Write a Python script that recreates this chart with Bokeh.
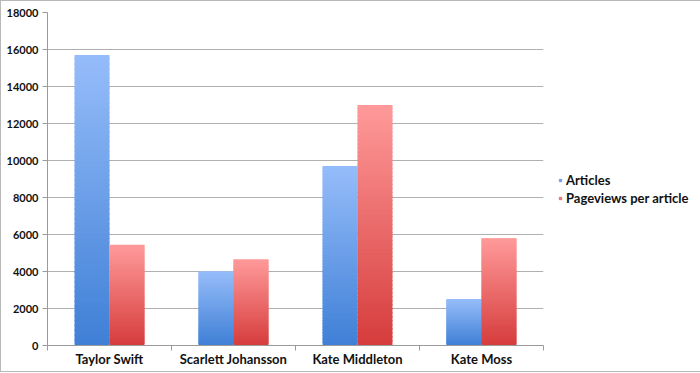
from bokeh.plotting import figure
from bokeh.models import FixedTicker, Legend, LegendItem, Range1d
from bokeh.embed import file_html
from bokeh.resources import INLINE

categories = ["Taylor Swift", "Scarlett Johansson", "Kate Middleton", "Kate Moss"]
articles = [15700, 4000, 9700, 2500]
pageviews = [5450, 4650, 13000, 5800]
series_names = ["Articles", "Pageviews per article"]
y_ticks = [0, 2000, 4000, 6000, 8000, 10000, 12000, 14000, 16000, 18000]

# gradient colours (bottom -> top)
blue_bottom, blue_top = (63, 127, 214), (150, 189, 250)
red_bottom, red_top = (214, 60, 60), (255, 154, 154)
legend_blue, legend_red = "#6f9fe8", "#e67373"

p = figure(frame_width=496, frame_height=333, output_backend="svg", toolbar_location=None,
           x_range=Range1d(0, len(categories)), y_range=Range1d(0, 18000),
           min_border_left=46, min_border_right=155, min_border_top=11,
           min_border_bottom=26)
p.styles = {"border": "1px solid #b8b8b8"}
p.outline_line_color = None
p.background_fill_color = "white"
p.border_fill_color = "white"

bw = 0.282
N = 60
overlap = 80


def grad(c0, c1, t):
    r = [round(a + (b - a) * t) for a, b in zip(c0, c1)]
    return "#%02x%02x%02x" % tuple(r)


def gradient_bar(x_left, value, c0, c1):
    left, right, bottom, top, colors = [], [], [], [], []
    for k in range(N):
        left.append(x_left)
        right.append(x_left + bw)
        bottom.append(value * k / N)
        top.append(min(value, value * (k + 1) / N + overlap))
        colors.append(grad(c0, c1, (k + 0.5) / N))
    p.quad(left=left, right=right, bottom=bottom, top=top,
           fill_color=colors, line_color=None)


for i, (a, pv) in enumerate(zip(articles, pageviews)):
    c = i + 0.5
    gradient_bar(c - bw, a, blue_bottom, blue_top)
    gradient_bar(c, pv, red_bottom, red_top)

# legend proxies
r_a = p.scatter([-10], [-10], marker="square", size=6, color=legend_blue)
r_p = p.scatter([-10], [-10], marker="square", size=6, color=legend_red)
legend = Legend(items=[LegendItem(label=series_names[0], renderers=[r_a]),
                       LegendItem(label=series_names[1], renderers=[r_p])],
                location=(14, 139))
legend.border_line_color = None
legend.background_fill_alpha = 0
legend.glyph_width = 6
legend.glyph_height = 6
legend.label_standoff = 3
legend.spacing = 2
legend.padding = 0
legend.margin = 0
legend.label_text_font = "Lato"
legend.label_text_font_style = "bold"
legend.label_text_font_size = "13px"
legend.label_text_color = "#111111"
legend.label_height = 14
p.add_layout(legend, "right")

# axes
p.yaxis.ticker = FixedTicker(ticks=y_ticks)
p.yaxis.axis_line_color = "#9a9a9a"
p.yaxis.major_tick_line_color = "#9a9a9a"
p.yaxis.major_tick_out = 5
p.yaxis.major_tick_in = 0
p.yaxis.minor_tick_line_color = None
p.yaxis.major_label_text_font = "Lato"
p.yaxis.major_label_text_font_style = "bold"
p.yaxis.major_label_text_font_size = "11px"
p.yaxis.major_label_text_color = "#111111"
p.yaxis.major_label_standoff = 4

centers = [i + 0.5 for i in range(len(categories))]
bounds = [i for i in range(len(categories) + 1)]
p.xaxis.ticker = FixedTicker(ticks=centers, minor_ticks=bounds)
p.xaxis.major_label_overrides = {c: name for c, name in zip(centers, categories)}
p.xaxis.axis_line_color = "#9a9a9a"
p.xaxis.major_tick_line_color = None
p.xaxis.major_tick_out = 0
p.xaxis.major_tick_in = 0
p.xaxis.minor_tick_line_color = "#9a9a9a"
p.xaxis.minor_tick_out = 5
p.xaxis.minor_tick_in = 0
p.xaxis.major_label_text_font = "Lato"
p.xaxis.major_label_text_font_style = "bold"
p.xaxis.major_label_text_font_size = "13px"
p.xaxis.major_label_text_color = "#111111"
p.xaxis.major_label_standoff = 0

p.xgrid.grid_line_color = None
p.ygrid.ticker = FixedTicker(ticks=y_ticks)
p.ygrid.grid_line_color = "#b0b0b0"
p.ygrid.level = "underlay"

open("out.html", "w").write(file_html(p, INLINE))
